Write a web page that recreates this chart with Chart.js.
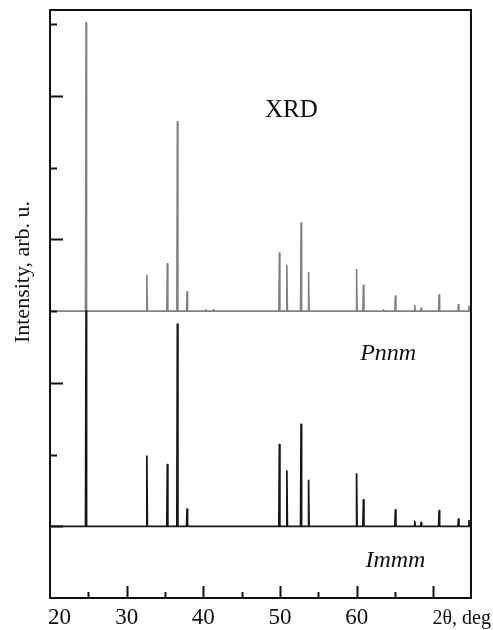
<!DOCTYPE html>
<html>
<head>
<meta charset="utf-8">
<title>XRD patterns: Pnnm and Immm</title>
<script src="https://cdn.jsdelivr.net/npm/chart.js@4.4.1/dist/chart.umd.min.js"></script>
<style>
  html, body { margin: 0; padding: 0; background: #ffffff; }
  #wrap { width: 493px; height: 630px; position: relative; }
</style>
</head>
<body>
<div id="wrap"><canvas id="xrd"></canvas></div>
<script>
// Reflection positions (2θ, deg) and relative peak intensities (arb. u.)
const pnnmPositions = [24.70, 32.63, 35.30, 36.61, 37.87, 40.30, 41.30, 49.91, 50.89, 52.74, 53.72, 59.98, 60.87, 63.50, 65.04, 67.56, 68.39, 70.74, 73.26, 74.63];
const pnnmHeights   = [4.02, 0.50, 0.66, 2.64, 0.27, 0.02, 0.02, 0.81, 0.64, 1.23, 0.54, 0.58, 0.36, 0.02, 0.21, 0.08, 0.04, 0.23, 0.09, 0.07];

const immmPositions = [24.70, 32.63, 35.30, 36.61, 37.87, 49.91, 50.89, 52.74, 53.72, 59.98, 60.87, 65.04, 67.56, 68.39, 70.74, 73.26, 74.63];
const immmHeights   = [3.00, 0.98, 0.86, 2.82, 0.24, 1.14, 0.77, 1.42, 0.64, 0.73, 0.37, 0.23, 0.07, 0.05, 0.22, 0.10, 0.08];

// Vertical offsets of the two stacked patterns
const pnnmOffset = 4;
const immmOffset = 1;

// Axis range and tick values
const xMin = 20, xMax = 74.9;
const yMin = 0, yMax = 8.2;
const xTickValues = [25, 30, 35, 40, 45, 50, 55, 60, 65, 70];
const xTickLabels = ["20", "30", "40", "50", "60", "2θ, deg"];
const xLabelValues = [20, 30, 40, 50, 60, 70];
const yTickValues = [1, 2, 3, 4, 5, 6, 7, 8];

// Half-width of each reflection line (deg)
const halfWidth = 0.07;

// Turn a reflection list into a stick-like line profile sitting on a baseline
function buildProfile(positions, heights, offset) {
  const pts = [{ x: xMin, y: offset }];
  positions.forEach((p, i) => {
    pts.push({ x: p - halfWidth, y: offset });
    pts.push({ x: p, y: offset + heights[i] });
    pts.push({ x: p + halfWidth, y: offset });
  });
  pts.push({ x: xMax, y: offset });
  return pts;
}

const serif = '"Liberation Serif", "DejaVu Serif", serif';
const ink = '#111111';

// Frame, inward ticks, tick labels and text annotations
const framePlugin = {
  id: 'frame',
  afterDraw(chart) {
    const ctx = chart.ctx;
    const a = chart.chartArea;
    const xs = chart.scales.x, ys = chart.scales.y;
    ctx.save();
    ctx.strokeStyle = ink;
    ctx.lineWidth = 2;
    ctx.strokeRect(a.left, a.top, a.right - a.left, a.bottom - a.top);

    ctx.lineWidth = 2;
    ctx.beginPath();
    xTickValues.forEach(v => {
      const px = Math.round(xs.getPixelForValue(v)) + 0.5;
      const len = (v % 10 === 0) ? 12 : 6;
      ctx.moveTo(px, a.bottom);
      ctx.lineTo(px, a.bottom - len);
    });
    yTickValues.forEach(v => {
      const py = Math.round(ys.getPixelForValue(v)) + 0.5;
      const len = (v % 2 === 1) ? 13 : 7;
      ctx.moveTo(a.left, py);
      ctx.lineTo(a.left + len, py);
    });
    ctx.stroke();

    // x tick labels
    ctx.fillStyle = ink;
    ctx.textBaseline = 'alphabetic';
    xLabelValues.forEach((v, i) => {
      const px = xs.getPixelForValue(v);
      const txt = xTickLabels[i];
      ctx.font = '23px ' + serif;
      if (i === 0) {
        ctx.textAlign = 'left';
        ctx.fillText(txt, px - 2, a.bottom + 26);
      } else if (i === xLabelValues.length - 1) {
        ctx.textAlign = 'left';
        ctx.font = '20px ' + serif;
        ctx.fillText(txt, px - 1, a.bottom + 26);
      } else {
        ctx.textAlign = 'center';
        ctx.fillText(txt, px, a.bottom + 26);
      }
    });

    // y axis title
    ctx.save();
    ctx.translate(29, 272);
    ctx.rotate(-Math.PI / 2);
    ctx.textAlign = 'center';
    ctx.font = '22px ' + serif;
    ctx.fillText('Intensity, arb. u.', 0, 0);
    ctx.restore();

    // annotations
    ctx.textAlign = 'center';
    ctx.font = '25px ' + serif;
    ctx.fillText('XRD', xs.getPixelForValue(51.48), ys.getPixelForValue(6.71));
    ctx.font = 'italic 24px ' + serif;
    ctx.fillText('Pnnm', xs.getPixelForValue(64.10), ys.getPixelForValue(3.32));
    ctx.fillText('Immm', xs.getPixelForValue(65.04), ys.getPixelForValue(0.437));
    ctx.restore();
  }
};

new Chart(document.getElementById('xrd'), {
  type: 'line',
  data: {
    datasets: [
      {
        label: 'Immm',
        data: buildProfile(immmPositions, immmHeights, immmOffset),
        borderColor: '#151515',
        borderWidth: 1.7,
        borderJoinStyle: 'round',
        borderCapStyle: 'round',
        pointRadius: 0,
        tension: 0,
        fill: false
      },
      {
        label: 'Pnnm',
        data: buildProfile(pnnmPositions, pnnmHeights, pnnmOffset),
        borderColor: '#808080',
        borderWidth: 1.6,
        borderJoinStyle: 'round',
        borderCapStyle: 'round',
        pointRadius: 0,
        tension: 0,
        fill: false
      }
    ]
  },
  options: {
    responsive: true,
    maintainAspectRatio: false,
    animation: false,
    events: [],
    layout: { padding: { left: 50, right: 22, top: 10, bottom: 32 } },
    plugins: { legend: { display: false }, tooltip: { enabled: false } },
    scales: {
      x: { type: 'linear', min: xMin, max: xMax, display: false },
      y: { type: 'linear', min: yMin, max: yMax, display: false }
    }
  },
  plugins: [framePlugin]
});
</script>
</body>
</html>
